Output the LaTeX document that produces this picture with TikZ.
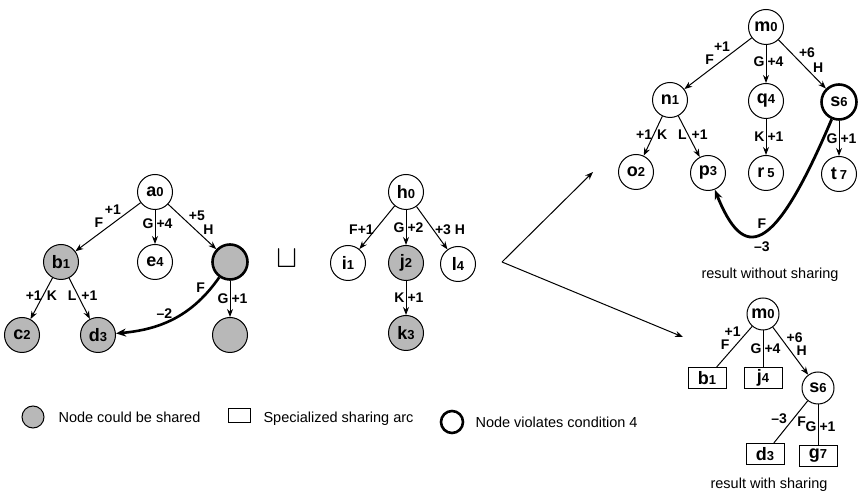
\documentclass[tikz,border=0pt]{standalone}
\usepackage{fontspec}
\setmainfont{Liberation Sans}
\usetikzlibrary{positioning, arrows.meta}

\newcommand{\nm}[2]{{\fontsize{18}{18}\selectfont\bfseries #1\fontsize{13}{13}\selectfont #2}}

\begin{document}
\begin{tikzpicture}[x=1pt, y=1pt, >={Stealth[length=8pt,width=6pt]}, on grid,
					every node/.append style={font=\fontsize{14.5}{14.5}\selectfont},
					vtx/.style={circle, draw, line width=1pt, minimum size=35pt, inner sep=0pt},
					shared/.style={vtx, fill=black!28},
					viol/.style={line width=2.6pt},
					arc/.style={rectangle, draw, line width=1pt, minimum width=38pt, minimum height=21pt, inner sep=0pt},
					lbl/.style={inner sep=1pt, font=\fontsize{14}{14}\selectfont\bfseries},
					txt/.style={font=\fontsize{14.5}{14.5}\selectfont},
					every edge/.append style={line width=1pt} ]
	\useasboundingbox (0,0) rectangle (858,497);
	
	%first tree
	\node[vtx]         (a0) at (155,305)                        {\nm{a}{0}};
	\node[shared]      (b1) [below left=70pt and 94pt of a0]    {\nm{b}{1}};
	\node[vtx]         (e4) [below=70pt of a0]                  {\nm{e}{4}};
	\node[shared,viol] (g1) [below right=70pt and 75pt of a0]   {};
	\node[shared]      (c2) [below left=73pt and 39pt of b1]    {\nm{c}{2}};
	\node[shared]      (d3) [below right=73pt and 37pt of b1]   {\nm{d}{3}};
	\node[shared]      (g2) [below=73pt of g1]                  {};
	
	\path[->] (a0) edge node[lbl,pos=.55,above left] {F} node[lbl,pos=.28,above left] {+1} (b1)
		edge node[lbl,pos=.4,left] {G} node[lbl,pos=.4,right] {+4} (e4)
		edge node[lbl,pos=.4,above right] {+5} node[lbl,pos=.7,above right] {H} (g1);
	\path[->] (b1) edge node[lbl,pos=.42,left] {+1} node[lbl,pos=.42,right=2pt] {K} (c2)
		edge node[lbl,pos=.42,left] {L} node[lbl,pos=.42,right=2pt] {+1} (d3);
	\path[->] (g1) edge node[lbl,pos=.5,left] {G} node[lbl,pos=.5,right] {+1} (g2);
	\draw[line width=2.6pt, -{Stealth[length=10pt,width=8pt]}] (g1) to[out=-125,in=5]
		node[lbl,pos=.1,left=4pt] {F} node[lbl,pos=.6,above=2pt] {--2} (d3);
	
	\node (cup) at (287,238) {\scalebox{2.2}{$\sqcup$}};
	
	%second tree
	\node[vtx]    (h0) at (406,305)                        {\nm{h}{0}};
	\node[vtx]    (i1) [below left=71pt and 58pt of h0]    {\nm{i}{1}};
	\node[shared] (j2) [below=71pt of h0]                  {\nm{j}{2}};
	\node[vtx]    (l4) [below right=72pt and 52pt of h0]   {\nm{l}{4}};
	\node[shared] (k3) [below=70pt of j2]                  {\nm{k}{3}};
	
	\path[->] (h0) edge node[lbl,pos=.55,left] {F+1} (i1)
		edge node[lbl,pos=.5,left] {G} node[lbl,pos=.5,right] {+2} (j2)
		edge node[lbl,pos=.55,right] {+3 H} (l4);
	\path[->] (j2) edge node[lbl,pos=.5,left] {K} node[lbl,pos=.5,right] {+1} (k3);
	
	%results
	\coordinate (fork) at (502,235);
	\coordinate (up)   at (593,325);
	\coordinate (dn)   at (683,160);
	\path[->] (fork) edge (up) edge (dn);
	
	%without sharing
	\node[vtx]      (m0) at (766,470)                        {\nm{m}{0}};
	\node[vtx]      (n1) [below left=73pt and 96pt of m0]    {\nm{n}{1}};
	\node[vtx]      (q4) [below=74pt of m0]                  {\nm{q}{4}};
	\node[vtx,viol] (s6) [below right=75pt and 73pt of m0]   {\nm{s}{6}};
	\node[vtx]      (o2) [below left=72pt and 34pt of n1]    {\nm{o}{2}};
	\node[vtx]      (p3) [below right=73pt and 38pt of n1]   {\nm{p}{3}};
	\node[vtx]      (r5) [below=72pt of q4]                  {\nm{r\,}{5}};
	\node[vtx]      (t7) [below=72pt of s6]                  {\nm{t\,}{7}};
	
	\path[->] (m0) edge node[lbl,pos=.54,above left] {F} node[lbl,pos=.3,above left] {+1} (n1)
		edge node[lbl,pos=.45,left] {G} node[lbl,pos=.45,right] {+4} (q4)
		edge node[lbl,pos=.4,above right] {+6} node[lbl,pos=.7,above right] {H} (s6);
	\path[->] (n1) edge node[lbl,pos=.47,left] {+1} node[lbl,pos=.47,right=2pt] {K} (o2)
		edge node[lbl,pos=.46,left] {L} node[lbl,pos=.46,right=2pt] {+1} (p3);
	\path[->] (q4) edge node[lbl,pos=.5,left] {K} node[lbl,pos=.5,right] {+1} (r5);
	\path[->] (s6) edge node[lbl,pos=.5,left] {G} node[lbl,pos=.5,right] {+1} (t7);
	\draw[line width=2.8pt, -{Stealth[length=10pt,width=8pt]}] (s6) .. controls +(-113:170) and +(-68:95) .. (p3)
		node[lbl,pos=.5,above=3pt] {F} node[lbl,pos=.5,below=6pt] {--3};
	\node[txt] (res1) at (770,222) {result without sharing};
	
	%with sharing
	\node[vtx,minimum size=32pt] (m0b) at (763,183)                      {\nm{m}{0}};
	\node[arc]                   (b1b) [below left=64pt and 56pt of m0b] {\nm{b}{1}};
	\node[arc]                   (j4b) [below=64pt of m0b]               {\nm{j}{4}};
	\node[vtx,minimum size=32pt] (s6b) [below right=74pt and 55pt of m0b]{\nm{s}{6}};
	\node[arc]                   (d3b) [below left=66pt and 53pt of s6b] {\nm{d}{3}};
	\node[arc]                   (g7b) [below=68pt of s6b]               {\nm{g}{7}};
	
	\path (m0b) edge node[lbl,pos=.6,above left] {F} node[lbl,pos=.28,above left] {+1} (b1b)
		edge node[lbl,pos=.5,left] {G} node[lbl,pos=.5,right] {+4} (j4b);
	\path[->] (m0b) edge node[lbl,pos=.35,above right] {+6} node[lbl,pos=.63,above right] {H} (s6b);
	\path (s6b) edge node[lbl,pos=.42,left=5pt] {--3} node[lbl,pos=.5,right=5pt] {F} (d3b)
		edge node[lbl,pos=.55,left] {G} node[lbl,pos=.55,right] {+1} (g7b);
	\node[txt] (res2) at (769,12) {result with sharing};
	
	%legend
	\node[shared,minimum size=22pt] (lg1) at (33,80) {};
	\node[txt,anchor=west] (lt1) at (55,80) {Node could be shared};
	\node[arc,minimum width=22pt,minimum height=14pt] (lg2) at (239,81) {};
	\node[txt,anchor=west] (lt2) at (260,78) {Specialized sharing arc};
	\node[vtx,viol,minimum size=22pt] (lg3) at (452,75) {};
	\node[txt,anchor=west] (lt3) at (472,75) {Node violates condition 4};
\end{tikzpicture}
\end{document}
